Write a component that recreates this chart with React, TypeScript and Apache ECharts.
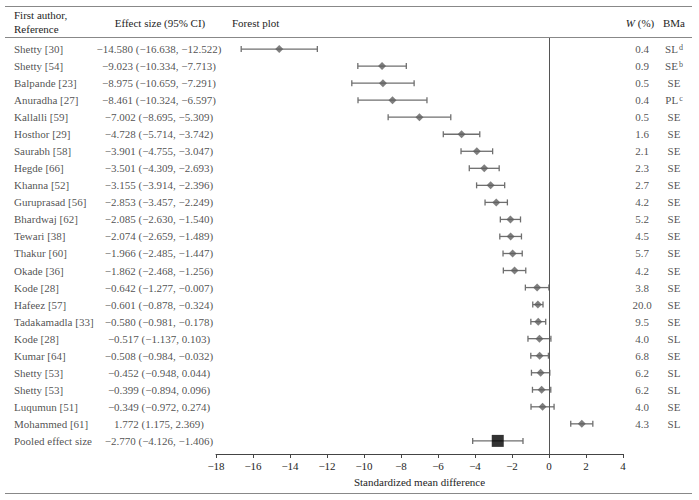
import React, { useEffect, useRef } from "react";
import * as echarts from "echarts";

const authors = [
  "Shetty [30]", "Shetty [54]", "Balpande [23]", "Anuradha [27]", "Kallalli [59]",
  "Hosthor [29]", "Saurabh [58]", "Hegde [66]", "Khanna [52]", "Guruprasad [56]",
  "Bhardwaj [62]", "Tewari [38]", "Thakur [60]", "Okade [36]", "Kode [28]",
  "Hafeez [57]", "Tadakamadla [33]", "Kode [28]", "Kumar [64]", "Shetty [53]",
  "Shetty [53]", "Luqumun [51]", "Mohammed [61]",
];
const effect = [
  -14.58, -9.023, -8.975, -8.461, -7.002, -4.728, -3.901, -3.501, -3.155, -2.853,
  -2.085, -2.074, -1.966, -1.862, -0.642, -0.601, -0.58, -0.517, -0.508, -0.452,
  -0.399, -0.349, 1.772,
];
const lower = [
  -16.638, -10.334, -10.659, -10.324, -8.695, -5.714, -4.755, -4.309, -3.914, -3.457,
  -2.63, -2.659, -2.485, -2.468, -1.277, -0.878, -0.981, -1.137, -0.984, -0.948,
  -0.894, -0.972, 1.175,
];
const upper = [
  -12.522, -7.713, -7.291, -6.597, -5.309, -3.742, -3.047, -2.693, -2.396, -2.249,
  -1.54, -1.489, -1.447, -1.256, -0.007, -0.324, -0.178, 0.103, -0.032, 0.044,
  0.096, 0.274, 2.369,
];
const weights = [
  "0.4", "0.9", "0.5", "0.4", "0.5", "1.6", "2.1", "2.3", "2.7", "4.2",
  "5.2", "4.5", "5.7", "4.2", "3.8", "20.0", "9.5", "4.0", "6.8", "6.2",
  "6.2", "4.0", "4.3",
];
const bma = [
  "SL", "SE", "SE", "PL", "SE", "SE", "SE", "SE", "SE", "SE",
  "SE", "SE", "SE", "SE", "SE", "SE", "SE", "SL", "SE", "SL",
  "SL", "SE", "SL",
];
const bmaSup = ["d", "b", "", "c", "", "", "", "", "", "", "", "", "", "", "", "", "", "", "", "", "", "", ""];

const pooledLabel = "Pooled effect size";
const pooledEffect = -2.77;
const pooledLower = -4.126;
const pooledUpper = -1.406;

const xMin = -18;
const xMax = 4;
const xInterval = 2;

const FONT = "Liberation Serif";
const TXT = "#1e1e1e";

const fmt = (v: number) => v.toFixed(3).replace(/-/g, "\u2212");

export default function App() {
  const ref = useRef<HTMLDivElement>(null);
  useEffect(() => {
    if (!ref.current) return;
    const chart = echarts.init(ref.current, undefined, { renderer: "svg" });
    const n = authors.length;
    const pooledRow = n;
    const yMin = -0.65;
    const yMax = 23.77;

    const barData = effect.map((_, i) => [lower[i], upper[i], i]);
    barData.push([pooledLower, pooledUpper, pooledRow]);

    const labelsAll = [...authors, pooledLabel];
    const effectTexts = effect.map((e, i) => `${fmt(e)} (${fmt(lower[i])}, ${fmt(upper[i])})`);
    effectTexts.push(`${fmt(pooledEffect)} (${fmt(pooledLower)}, ${fmt(pooledUpper)})`);

    const COL_AUTHOR = 14;
    const COL_EFFECT = 159;
    const COL_W = 642;
    const COL_BMA = 674;

    const textSeries = (col: number, texts: string[], align: string, rich?: any) => ({
      type: "scatter",
      xAxisIndex: 1,
      yAxisIndex: 1,
      symbolSize: 0,
      silent: true,
      data: texts.map((t, i) => ({ value: [col, i], name: t })),
      label: {
        show: true,
        position: "inside",
        align,
        verticalAlign: "middle",
        formatter: (p: any) => p.name,
        color: TXT,
        fontFamily: FONT,
        fontSize: 11,
        rich,
      },
    });

    const bmaTexts = bma.map((b, i) => (bmaSup[i] ? `{m|${b}}{s|${bmaSup[i]}}` : `{m|${b}}`));

    chart.setOption({
      animation: false,
      backgroundColor: "#fff",
      textStyle: { fontFamily: FONT },
      grid: [
        { left: 216, right: 76, top: 38, bottom: 46 },
        { left: 0, right: 0, top: 38, bottom: 46 },
      ],
      xAxis: [
        {
          type: "value",
          gridIndex: 0,
          min: xMin,
          max: xMax,
          interval: xInterval,
          axisLine: { show: true, onZero: false, lineStyle: { color: "#444", width: 1 } },
          axisTick: { show: true, length: 4, lineStyle: { color: "#444" } },
          axisLabel: {
            color: TXT,
            fontFamily: FONT,
            fontSize: 11,
            margin: 6,
            formatter: (v: number) => String(v).replace(/-/g, "\u2212"),
          },
          splitLine: { show: false },
          name: "Standardized mean difference",
          nameLocation: "middle",
          nameGap: 22,
          nameTextStyle: { color: TXT, fontFamily: FONT, fontSize: 11 },
        },
        { type: "value", gridIndex: 1, min: 0, max: 699, show: false },
      ],
      yAxis: [
        { type: "value", gridIndex: 0, min: yMin, max: yMax, inverse: true, show: false },
        { type: "value", gridIndex: 1, min: yMin, max: yMax, inverse: true, show: false },
      ],
      graphic: [
        { type: "line", shape: { x1: 5, y1: 6.5, x2: 692, y2: 6.5 }, style: { stroke: "#888", lineWidth: 1 } },
        { type: "line", shape: { x1: 5, y1: 37.5, x2: 692, y2: 37.5 }, style: { stroke: "#888", lineWidth: 1 } },
        { type: "line", shape: { x1: 5, y1: 493.5, x2: 692, y2: 493.5 }, style: { stroke: "#888", lineWidth: 1 } },
        { type: "text", x: 14, y: 15, style: { text: "First author,", fontFamily: FONT, fontSize: 11, fill: TXT, textVerticalAlign: "middle" } },
        { type: "text", x: 14, y: 29, style: { text: "Reference", fontFamily: FONT, fontSize: 11, fill: TXT, textVerticalAlign: "middle" } },
        { type: "text", x: 160, y: 23, style: { text: "Effect size (95% CI)", fontFamily: FONT, fontSize: 11, fill: TXT, textAlign: "center", textVerticalAlign: "middle" } },
        { type: "text", x: 232, y: 23, style: { text: "Forest plot", fontFamily: FONT, fontSize: 11, fill: TXT, textVerticalAlign: "middle" } },
        {
          type: "text", x: 640, y: 23,
          style: {
            text: "{i|W} {n|(%)}", fontFamily: FONT, fontSize: 11, fill: TXT, textAlign: "center", textVerticalAlign: "middle",
            rich: {
              i: { fontStyle: "italic", fontFamily: FONT, fontSize: 11, fill: TXT },
              n: { fontFamily: FONT, fontSize: 11, fill: TXT },
            },
          },
        },
        { type: "text", x: 674, y: 23, style: { text: "BMa", fontFamily: FONT, fontSize: 11, fill: TXT, textAlign: "center", textVerticalAlign: "middle" } },
      ],
      series: [
        {
          type: "custom",
          xAxisIndex: 0,
          yAxisIndex: 0,
          silent: true,
          data: barData,
          renderItem: (params: any, api: any) => {
            const a = api.coord([api.value(0), api.value(2)]);
            const b = api.coord([api.value(1), api.value(2)]);
            const h = 3;
            const style = { stroke: "#6f6f6f", lineWidth: 1.3 };
            return {
              type: "group",
              children: [
                { type: "line", shape: { x1: a[0], y1: a[1], x2: b[0], y2: b[1] }, style },
                { type: "line", shape: { x1: a[0], y1: a[1] - h, x2: a[0], y2: a[1] + h }, style },
                { type: "line", shape: { x1: b[0], y1: b[1] - h, x2: b[0], y2: b[1] + h }, style },
              ],
            };
          },
          z: 2,
        },
        {
          type: "scatter",
          xAxisIndex: 0,
          yAxisIndex: 0,
          symbol: "diamond",
          symbolSize: [8, 8],
          itemStyle: { color: "#5f5f5f" },
          silent: true,
          data: effect.map((e, i) => [e, i]),
          z: 3,
          markLine: {
            silent: true,
            symbol: "none",
            label: { show: false },
            lineStyle: { color: "#555", width: 1, type: "solid" },
            data: [{ xAxis: 0 }],
          },
        },
        {
          type: "scatter",
          xAxisIndex: 0,
          yAxisIndex: 0,
          symbol: "rect",
          symbolSize: [12, 12],
          itemStyle: { color: "#000" },
          silent: true,
          data: [[pooledEffect, pooledRow]],
          z: 3,
        },
        textSeries(COL_AUTHOR, labelsAll, "left"),
        textSeries(COL_EFFECT, effectTexts, "center"),
        textSeries(COL_W, weights, "center"),
        textSeries(COL_BMA, bmaTexts, "center", {
          m: { fontFamily: FONT, fontSize: 11, color: TXT, lineHeight: 13 },
          s: { fontFamily: FONT, fontSize: 8, color: TXT, verticalAlign: "middle", lineHeight: 13, padding: [0, 0, 4, 1] },
        }),
      ],
    });
    return () => chart.dispose();
  }, []);
  return (
    <div
      ref={ref}
      style={{ position: "fixed", left: 0, top: 0, width: 699, height: 500, background: "#fff" }}
    />
  );
}
